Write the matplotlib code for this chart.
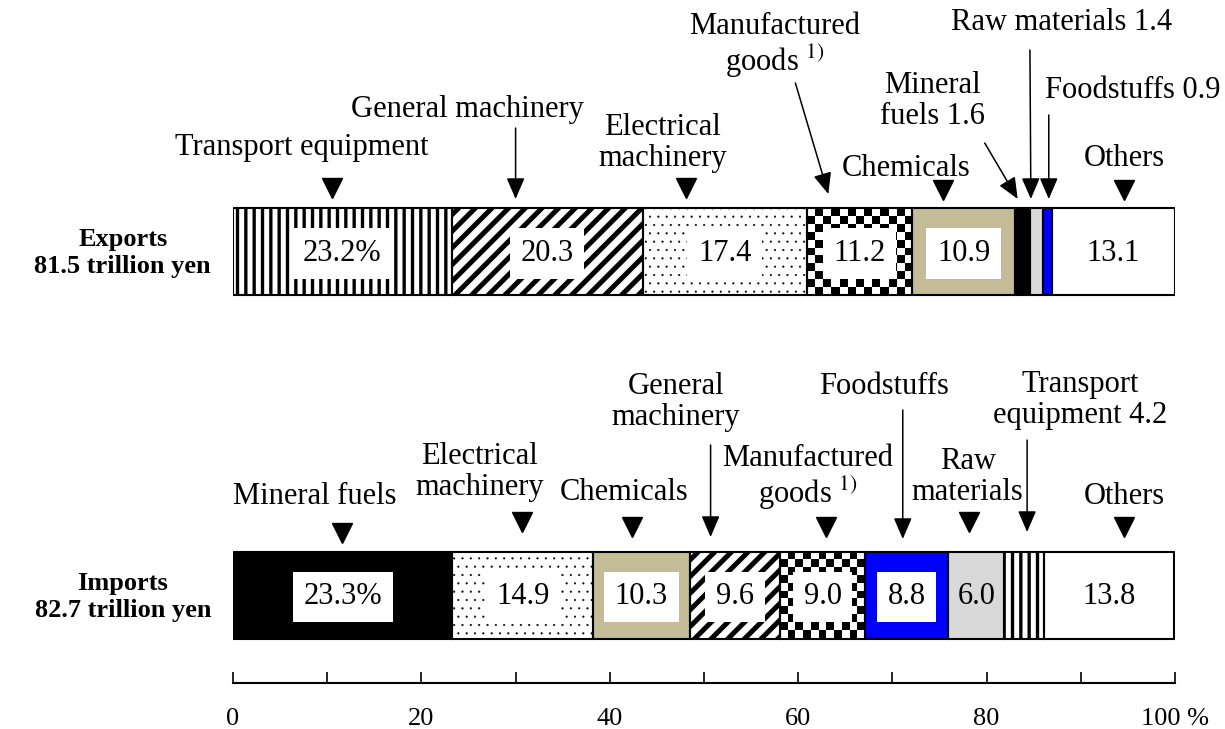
import numpy as np
import matplotlib
matplotlib.use('Agg')
import matplotlib.pyplot as plt

plt.rcParams['font.family'] = ['Liberation Serif', 'DejaVu Serif']
plt.rcParams['mathtext.fontset'] = 'stix'

# data (shares in %, left to right)
exp_names = ['Transport equipment', 'General machinery', 'Electrical machinery',
             'Manufactured goods', 'Chemicals', 'Mineral fuels', 'Raw materials',
             'Foodstuffs', 'Others']
exp_vals = [23.2, 20.3, 17.4, 11.2, 10.9, 1.6, 1.4, 0.9, 13.1]
exp_text = ['23.2%', '20.3', '17.4', '11.2', '10.9', '', '', '', '13.1']

imp_names = ['Mineral fuels', 'Electrical machinery', 'Chemicals', 'General machinery',
             'Manufactured goods', 'Foodstuffs', 'Raw materials', 'Transport equipment',
             'Others']
imp_vals = [23.3, 14.9, 10.3, 9.6, 9.0, 8.8, 6.0, 4.2, 13.8]
imp_text = ['23.3%', '14.9', '10.3', '9.6', '9.0', '8.8', '6.0', '', '13.8']

row_labels = ['Exports\n81.5 trillion yen', 'Imports\n82.7 trillion yen']
xticks = [0, 20, 40, 60, 80, 100]
xticklabels = ['0', '20', '40', '60', '80', '100 %']

# fill style per category: (facecolor, hatch, hatch linewidth)
style = {
    'Transport equipment': ('white', '||', 2.4),
    'General machinery': ('white', '//', 3.6),
    'Electrical machinery': ('white', '..', 0.3),
    'Manufactured goods': ('white', 'checker', 0),
    'Chemicals': ('#c4bc96', '', 0),
    'Mineral fuels': ('black', '', 0),
    'Raw materials': ('#d9d9d9', '', 0),
    'Foodstuffs': ('#0000ff', '', 0),
    'Others': ('white', '', 0),
}

W, H = 1225, 729
fig = plt.figure(figsize=(W / 100, H / 100), dpi=100)
# axes: x in %, y in pixels from the top of the figure
ax = fig.add_axes([233 / W, 46 / H, 942 / W, 683 / H])
ax.set_xlim(0, 100)
ax.set_ylim(683, 0)
px_per_unit = 942 / 100


def draw_bar(yc, names, vals, texts, hide_box=()):
    lefts = np.concatenate([[0], np.cumsum(vals)[:-1]])
    for name, v, l, t in zip(names, vals, lefts, texts):
        fc, hatch, hlw = style[name]
        h = '' if hatch == 'checker' else hatch
        with plt.rc_context({'hatch.linewidth': max(hlw, 0.1)}):
            b = ax.barh(yc, v, left=l, height=87, color=fc, hatch=h,
                        edgecolor='black', linewidth=0, zorder=2)[0]
        if hasattr(b, 'set_hatch_linewidth') and hlw:
            b.set_hatch_linewidth(hlw)
        if hatch == 'checker':
            cell = 8.0
            nx = int(round(v * px_per_unit / cell))
            ny = int(round(87 / cell))
            arr = np.add.outer(np.arange(ny), np.arange(nx)) % 2
            im = ax.imshow(arr, cmap='gray_r', interpolation='nearest', aspect='auto',
                           extent=(l, l + v, b.get_y() + 87, b.get_y()), zorder=2.5)
            im.set_clip_path(b)
        if t:
            if t in hide_box:
                bbox = None
            else:
                bbox = dict(boxstyle='square,pad=0.35', fc='white', ec='none')
            ax.text(l + v / 2, yc + 2, t, ha='center', va='center', fontsize=22,
                    bbox=bbox, zorder=4)
    # outlines
    ax.barh(yc, vals, left=lefts, height=87, color='none', edgecolor='black',
            linewidth=1.5, zorder=3)


draw_bar(251.5, exp_names, exp_vals, exp_text)
draw_bar(595, imp_names, imp_vals, imp_text, hide_box=('6.0',))
ax.set_xlim(0, 100)
ax.set_ylim(683, 0)

for lab, yc in zip(row_labels, [253, 597]):
    ax.text(-11.7, yc, lab, ha='center', va='center', fontsize=19, fontweight='bold',
            linespacing=1.25, clip_on=False)

# category labels: (text, x, y)
cat_labels = [
    ('Transport equipment', 7.3, 148), ('General machinery', 24.9, 109),
    ('Electrical\nmachinery', 45.6, 143), ('Manufactured\ngoods $^{1)}$', 57.5, 46),
    ('Chemicals', 71.5, 168), ('Mineral\nfuels 1.6', 74.3, 101),
    ('Raw materials 1.4', 88.0, 22), ('Foodstuffs 0.9', 95.5, 90),
    ('Others', 94.6, 158),
    ('Mineral fuels', 8.7, 497), ('Electrical\nmachinery', 26.2, 472),
    ('Chemicals', 41.5, 493), ('General\nmachinery', 47.0, 402),
    ('Manufactured\ngoods $^{1)}$', 61.0, 478), ('Foodstuffs', 69.1, 387),
    ('Raw\nmaterials', 78.0, 477), ('Transport\nequipment 4.2', 89.9, 400),
    ('Others', 94.6, 497),
]
for t, x, y in cat_labels:
    ax.text(x, y, t, ha='center', va='center', fontsize=22, linespacing=1.1,
            multialignment='center', clip_on=False)

# triangle markers
tri_x = [10.5, 48.1, 75.4, 94.6, 11.6, 30.7, 42.4, 63.0, 78.1, 94.6]
tri_y = [188, 188, 190, 190, 533, 522, 527, 527, 522, 527]
ax.plot(tri_x, tri_y, linestyle='none', marker='v', markersize=14, color='black',
        clip_on=False)

# arrows: (tail x, tail y, tip x, tip y)
arrows = [
    (30.0, 128, 30.0, 199), (59.7, 83, 63.2, 194), (79.8, 143, 83.3, 199),
    (84.6, 50, 84.7, 199), (86.6, 115, 86.6, 199),
    (50.7, 445, 50.7, 537), (71.1, 410, 71.1, 539), (84.3, 440, 84.3, 532),
]
for x0, y0, x1, y1 in arrows:
    ax.annotate('', xy=(x1, y1), xytext=(x0, y0),
                arrowprops=dict(arrowstyle='-|>,head_width=0.28,head_length=0.65',
                                color='black', lw=1.1, mutation_scale=20,
                                shrinkA=0, shrinkB=0))

# percentage axis
for s in ['top', 'left', 'right']:
    ax.spines[s].set_visible(False)
ax.spines['bottom'].set_linewidth(1.5)
ax.set_yticks([])
ax.set_xticks(xticks)
ax.set_xticklabels(xticklabels, fontsize=19)
ax.set_xticks(np.arange(10, 100, 20), minor=True)
ax.tick_params(axis='x', which='both', direction='in', length=8, width=1.2, pad=18)

fig.savefig('out.png', dpi=100)
